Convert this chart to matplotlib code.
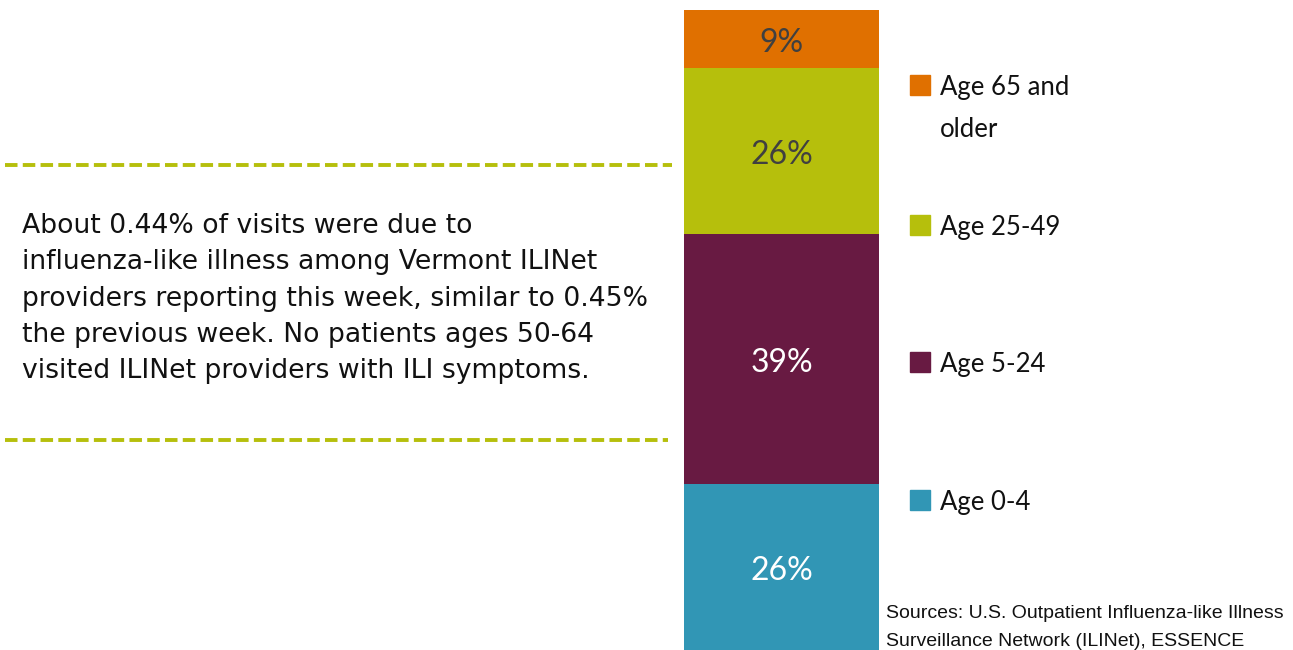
import matplotlib
matplotlib.use("Agg")
import matplotlib.pyplot as plt
from matplotlib.lines import Line2D
from matplotlib.patches import Rectangle

# Share of ILI visits by age group (bottom to top of the stack)
age_groups = ["Age 0-4", "Age 5-24", "Age 25-49", "Age 65 and\nolder"]
shares = [26, 39, 26, 9]
seg_colors = ["#3196B5", "#681A42", "#B6BF0C", "#E07000"]
label_colors = ["white", "white", "#404040", "#404040"]

note_lines = [
    "About 0.44% of visits were due to",
    "influenza-like illness among Vermont ILINet",
    "providers reporting this week, similar to 0.45%",
    "the previous week. No patients ages 50-64",
    "visited ILINet providers with ILI symptoms.",
]
source_lines = [
    "Sources: U.S. Outpatient Influenza-like Illness",
    "Surveillance Network (ILINet), ESSENCE",
]

W, H = 1293, 650
plt.rcParams["lines.scale_dashes"] = False
fig = plt.figure(figsize=(W / 100, H / 100), dpi=100)

label_font = ["Lato", "DejaVu Sans"]
body_font = ["DejaVu Sans"]
small_font = ["Liberation Sans", "DejaVu Sans"]


def fy(px):
    # pixel row from the top -> figure fraction
    return 1 - px / H


# stacked bar
ax = fig.add_axes([684 / W, 0, 195 / W, 640 / H])
nudge = 0.6  # push the percent labels down a few pixels
bottom = 0
for share, color, tcol in zip(shares, seg_colors, label_colors):
    ax.bar(0, share, bottom=bottom, width=1.0, color=color, edgecolor="none")
    ax.text(0, bottom + share / 2 - nudge, f"{share}%", ha="center", va="center",
            color=tcol, fontsize=23, family=label_font)
    bottom += share
ax.set_xlim(-0.5, 0.5)
ax.set_ylim(0, 100)
ax.axis("off")

# legend, drawn by hand so the marker sits on the first line of each label
legend_y = [500, 362, 225, 85]
for name, color, y in zip(age_groups, seg_colors, legend_y):
    fig.add_artist(Rectangle((910 / W, fy(y + 10)), 20 / W, 20 / H,
                             transform=fig.transFigure, color=color))
    for i, line in enumerate(name.split("\n")):
        fig.text(940 / W, fy(y + 10 + 42 * i), line, ha="left", va="baseline",
                 fontsize=18.5, family=label_font, color="#111111")

# dashed separators around the note
for y, x1 in [(165, 672), (440, 668)]:
    fig.add_artist(Line2D([5 / W, x1 / W], [fy(y), fy(y)],
                          transform=fig.transFigure, color="#B6BF0C",
                          linewidth=2.8, dashes=(9, 3.8),
                          dash_capstyle="butt"))

for i, line in enumerate(note_lines):
    fig.text(22 / W, fy(233 + 36.3 * i), line, ha="left", va="baseline",
             fontsize=19.2, family=body_font, color="#111111")

for i, line in enumerate(source_lines):
    fig.text(886 / W, fy(618 + 27.5 * i), line, ha="left", va="baseline",
             fontsize=14, family=small_font, color="#111111")

fig.savefig("out.png", dpi=100)
